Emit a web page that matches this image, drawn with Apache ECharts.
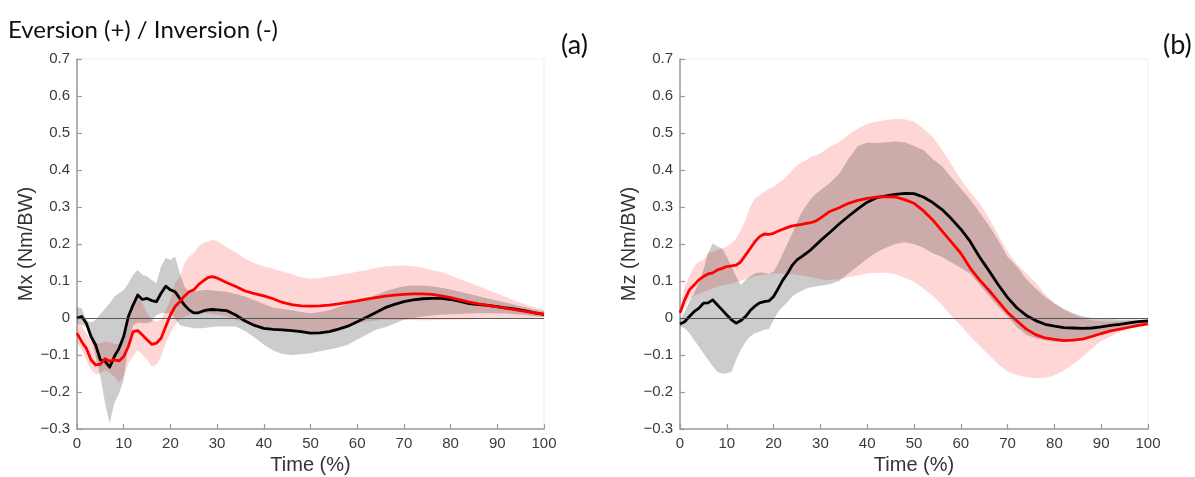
<!DOCTYPE html>
<html>
<head>
<meta charset="utf-8">
<script src="https://cdn.jsdelivr.net/npm/echarts@6/dist/echarts.min.js"></script>
<style>
html,body{margin:0;padding:0;background:#fff;}
#chart{width:1195px;height:477px;}
</style>
</head>
<body>
<div id="chart"></div>
<script>
// ---- Data (Time %, values in Nm/BW) ----
const T = [0,1,2,3,4,5,6,7,8,9,10,11,12,13,14,15,16,17,18,19,20,21,22,23,24,25,26,27,28,29,30,
  32,34,36,38,40,42,44,46,48,50,52,54,56,58,60,62,64,66,68,70,72,74,76,78,80,82,84,86,88,90,92,94,96,98,100];

// Panel (a) Mx
const mxBlackMean = [0,0.004,-0.014,-0.05,-0.073,-0.113,-0.117,-0.133,-0.104,-0.082,-0.05,0.004,0.035,0.062,0.05,0.053,0.047,0.044,0.067,0.086,0.076,0.071,0.053,0.035,0.022,0.014,0.014,0.019,0.022,0.023,0.022,
  0.02,0.008,-0.008,-0.02,-0.028,-0.031,-0.032,-0.034,-0.037,-0.041,-0.04,-0.037,-0.03,-0.022,-0.01,0.002,0.015,0.028,0.037,0.044,0.049,0.052,0.053,0.053,0.05,0.045,0.039,0.036,0.034,0.031,0.027,0.024,0.019,0.014,0.01];
const mxBlackUpper = [0.03,0.026,-0.005,-0.012,-0.005,0.01,0.025,0.04,0.058,0.067,0.076,0.094,0.116,0.13,0.116,0.112,0.103,0.094,0.139,0.162,0.157,0.166,0.121,0.085,0.071,0.071,0.073,0.076,0.076,0.075,0.073,
  0.071,0.065,0.058,0.048,0.038,0.028,0.024,0.021,0.016,0.013,0.016,0.021,0.03,0.038,0.045,0.052,0.062,0.072,0.08,0.086,0.088,0.088,0.086,0.082,0.077,0.071,0.065,0.059,0.053,0.047,0.041,0.035,0.029,0.023,0.018];
const mxBlackLower = [-0.014,-0.018,-0.023,-0.05,-0.104,-0.158,-0.23,-0.285,-0.23,-0.204,-0.167,-0.068,-0.02,-0.012,-0.014,-0.014,-0.01,0.008,0.013,0.013,0.012,0,-0.019,-0.022,-0.025,-0.028,-0.028,-0.028,-0.026,-0.024,-0.023,
  -0.023,-0.023,-0.035,-0.052,-0.072,-0.088,-0.097,-0.1,-0.098,-0.095,-0.09,-0.085,-0.08,-0.072,-0.058,-0.045,-0.032,-0.025,-0.015,-0.005,0,0.004,0.007,0.009,0.01,0.011,0.012,0.013,0.013,0.013,0.012,0.01,0.008,0.005,0.003];
const mxRedMean = [-0.041,-0.064,-0.082,-0.113,-0.127,-0.125,-0.11,-0.117,-0.113,-0.116,-0.104,-0.077,-0.037,-0.034,-0.046,-0.059,-0.071,-0.068,-0.055,-0.023,0.008,0.031,0.044,0.059,0.071,0.076,0.09,0.1,0.109,0.112,0.108,
  0.096,0.085,0.073,0.066,0.06,0.052,0.042,0.036,0.033,0.032,0.033,0.035,0.038,0.042,0.046,0.051,0.055,0.059,0.062,0.064,0.065,0.065,0.064,0.06,0.055,0.049,0.043,0.038,0.034,0.03,0.026,0.022,0.018,0.014,0.01];
const mxRedUpper = [-0.005,-0.02,-0.041,-0.06,-0.068,-0.068,-0.064,-0.066,-0.07,-0.07,-0.059,-0.005,0.035,0.058,0.04,0.013,-0.005,-0.01,-0.005,0.022,0.049,0.094,0.112,0.148,0.166,0.175,0.193,0.202,0.207,0.211,0.208,
  0.192,0.178,0.16,0.148,0.14,0.133,0.126,0.118,0.11,0.107,0.108,0.112,0.116,0.12,0.125,0.13,0.135,0.139,0.141,0.142,0.14,0.136,0.13,0.124,0.115,0.105,0.096,0.086,0.076,0.066,0.056,0.046,0.037,0.029,0.023];
const mxRedLower = [-0.068,-0.086,-0.113,-0.14,-0.153,-0.15,-0.14,-0.148,-0.158,-0.176,-0.158,-0.122,-0.104,-0.086,-0.1,-0.113,-0.131,-0.127,-0.104,-0.068,-0.041,-0.019,-0.005,0.004,0.008,0.012,0.013,0.013,0.012,0.01,0.009,
  0.005,-0.005,-0.012,-0.02,-0.028,-0.033,-0.036,-0.038,-0.04,-0.042,-0.04,-0.037,-0.03,-0.022,-0.015,-0.01,-0.007,-0.005,-0.005,-0.005,-0.006,-0.006,-0.006,-0.005,-0.005,-0.004,-0.004,-0.003,-0.002,-0.002,-0.001,0,0,0.001,0.002];

// Panel (b) Mz
const mzBlackMean = [-0.016,-0.01,0.004,0.017,0.026,0.04,0.041,0.049,0.035,0.022,0.008,-0.005,-0.014,-0.007,0.004,0.02,0.032,0.041,0.044,0.046,0.058,0.08,0.103,0.121,0.143,0.157,0.166,0.175,0.185,0.197,0.209,
  0.231,0.254,0.275,0.295,0.313,0.325,0.33,0.334,0.337,0.336,0.327,0.312,0.293,0.268,0.24,0.207,0.165,0.128,0.09,0.055,0.027,0.007,-0.007,-0.017,-0.022,-0.026,-0.027,-0.028,-0.027,-0.024,-0.02,-0.017,-0.013,-0.01,-0.008];
const mzBlackUpper = [-0.005,0.017,0.044,0.067,0.094,0.13,0.175,0.202,0.193,0.188,0.166,0.139,0.112,0.089,0.103,0.112,0.121,0.123,0.122,0.119,0.125,0.148,0.175,0.202,0.229,0.26,0.285,0.305,0.322,0.335,0.345,
  0.365,0.39,0.43,0.465,0.474,0.473,0.475,0.477,0.475,0.465,0.454,0.43,0.41,0.38,0.35,0.32,0.285,0.25,0.21,0.165,0.139,0.105,0.08,0.057,0.04,0.025,0.013,0.005,0,-0.002,-0.003,-0.004,-0.004,-0.005,-0.005];
const mzBlackLower = [-0.023,-0.028,-0.041,-0.059,-0.077,-0.095,-0.113,-0.131,-0.145,-0.151,-0.149,-0.145,-0.113,-0.086,-0.064,-0.05,-0.041,-0.037,-0.032,-0.03,-0.005,0.017,0.031,0.044,0.058,0.067,0.073,0.08,0.083,0.085,0.087,
  0.091,0.1,0.12,0.14,0.16,0.178,0.19,0.2,0.205,0.2,0.19,0.175,0.165,0.15,0.135,0.12,0.09,0.06,0.03,0.005,-0.025,-0.045,-0.055,-0.06,-0.064,-0.064,-0.061,-0.056,-0.05,-0.043,-0.037,-0.031,-0.025,-0.02,-0.016];
const mzRedMean = [0.014,0.049,0.076,0.089,0.103,0.112,0.119,0.122,0.13,0.134,0.139,0.141,0.143,0.152,0.17,0.188,0.206,0.22,0.227,0.226,0.229,0.235,0.24,0.245,0.249,0.251,0.253,0.256,0.258,0.262,0.27,
  0.288,0.298,0.31,0.318,0.323,0.327,0.328,0.327,0.32,0.31,0.29,0.265,0.235,0.205,0.175,0.135,0.103,0.075,0.045,0.015,-0.008,-0.03,-0.045,-0.054,-0.058,-0.061,-0.06,-0.057,-0.05,-0.042,-0.035,-0.03,-0.025,-0.02,-0.016];
const mzRedUpper = [0.026,0.085,0.112,0.139,0.152,0.157,0.175,0.179,0.184,0.188,0.193,0.202,0.215,0.238,0.265,0.301,0.323,0.332,0.341,0.35,0.355,0.364,0.373,0.386,0.4,0.413,0.42,0.427,0.436,0.44,0.445,
  0.463,0.476,0.495,0.512,0.525,0.531,0.535,0.538,0.537,0.531,0.512,0.49,0.455,0.415,0.375,0.34,0.31,0.27,0.225,0.18,0.145,0.12,0.095,0.065,0.04,0.022,0.01,0,-0.006,-0.009,-0.01,-0.009,-0.008,-0.006,-0.005];
const mzRedLower = [0.004,0.03,0.05,0.06,0.065,0.07,0.075,0.08,0.085,0.088,0.09,0.093,0.097,0.1,0.105,0.108,0.112,0.115,0.117,0.118,0.12,0.12,0.12,0.119,0.118,0.117,0.115,0.113,0.11,0.108,0.105,
  0.103,0.105,0.11,0.115,0.12,0.122,0.122,0.118,0.108,0.098,0.08,0.06,0.035,0.005,-0.02,-0.05,-0.075,-0.1,-0.125,-0.145,-0.155,-0.16,-0.162,-0.162,-0.155,-0.142,-0.125,-0.105,-0.083,-0.062,-0.05,-0.038,-0.028,-0.021,-0.016];

// Axis ticks
const xTicks = {min: 0, max: 100, interval: 10};
const yTicks = {min: -0.3, max: 0.7, interval: 0.1};

// ---- Build chart ----
const pairs = (arr) => T.map((t, i) => [t, arr[i]]);

function band(gridIdx, upper, lower, color, z) {
  return {
    type: 'custom',
    xAxisIndex: gridIdx, yAxisIndex: gridIdx,
    data: [[0, 0]],
    silent: true,
    z: z,
    renderItem: function (params, api) {
      const pts = [];
      for (let i = 0; i < T.length; i++) pts.push(api.coord([T[i], upper[i]]));
      for (let i = T.length - 1; i >= 0; i--) pts.push(api.coord([T[i], lower[i]]));
      return {type: 'polygon', shape: {points: pts}, style: {fill: color, stroke: null}};
    }
  };
}
function line(gridIdx, arr, color, z, withZero) {
  const s = {
    type: 'line', xAxisIndex: gridIdx, yAxisIndex: gridIdx,
    data: pairs(arr), showSymbol: false, symbol: 'none', silent: true, z: z,
    lineStyle: {color: color, width: 2.8, join: 'round'},
    animation: false
  };
  if (withZero) {
    s.markLine = {silent: true, symbol: 'none', animation: false,
      label: {show: false},
      lineStyle: {color: '#4a4a4a', width: 0.9, type: 'solid'},
      data: [{yAxis: 0}]};
  }
  return s;
}
const labelFont = 'Liberation Sans, Arial, sans-serif';
function xAx(gridIdx) {
  return {
    type: 'value', gridIndex: gridIdx, min: xTicks.min, max: xTicks.max, interval: xTicks.interval,
    name: 'Time (%)', nameLocation: 'middle', nameGap: 26,
    nameTextStyle: {fontSize: 20, color: '#333', fontFamily: labelFont},
    axisLine: {show: true, onZero: false, lineStyle: {color: '#9a9a9a', width: 1.5}},
    axisTick: {show: true, inside: true, length: 5, lineStyle: {color: '#9a9a9a', width: 1.2}},
    axisLabel: {color: '#3a3a3a', fontSize: 15, fontFamily: labelFont, margin: 7},
    splitLine: {show: false}
  };
}
function yAx(gridIdx, name) {
  return {
    type: 'value', gridIndex: gridIdx, min: yTicks.min, max: yTicks.max, interval: yTicks.interval,
    name: name, nameLocation: 'middle', nameGap: 41,
    nameTextStyle: {fontSize: 20, color: '#333', fontFamily: labelFont},
    axisLine: {show: true, onZero: false, lineStyle: {color: '#9a9a9a', width: 1.5}},
    axisTick: {show: true, inside: true, length: 5, lineStyle: {color: '#9a9a9a', width: 1.2}},
    axisLabel: {color: '#3a3a3a', fontSize: 15, fontFamily: labelFont, margin: 7,
      formatter: function (v) {
        if (Math.abs(v) < 1e-9) return '0';
        return (v < 0 ? '\u2212' : '') + Math.abs(v).toFixed(1);
      }},
    splitLine: {show: false}
  };
}

const chart = echarts.init(document.getElementById('chart'), null, {renderer: 'canvas'});
chart.setOption({
  animation: false,
  backgroundColor: '#ffffff',
  title: [
    {text: 'Eversion (+) / Inversion (-)', left: 3, top: 13,
      textStyle: {fontSize: 24, fontWeight: 'normal', color: '#111', fontFamily: 'Lato, Open Sans, sans-serif'}},
    {text: '(a)', left: 556, top: 27,
      textStyle: {fontSize: 27, fontWeight: 'normal', color: '#111', fontFamily: 'Lato, Open Sans, sans-serif'}},
    {text: '(b)', left: 1158, top: 27,
      textStyle: {fontSize: 27, fontWeight: 'normal', color: '#111', fontFamily: 'Lato, Open Sans, sans-serif'}}
  ],
  grid: [
    {left: 77, top: 59, width: 467, height: 370, outerBoundsMode: 'none', containLabel: false,
      show: true, borderColor: '#eeeeee', borderWidth: 1, backgroundColor: 'transparent'},
    {left: 680, top: 59, width: 468, height: 370, outerBoundsMode: 'none', containLabel: false,
      show: true, borderColor: '#eeeeee', borderWidth: 1, backgroundColor: 'transparent'}
  ],
  xAxis: [xAx(0), xAx(1)],
  yAxis: [yAx(0, 'Mx (Nm/BW)'), yAx(1, 'Mz (Nm/BW)')],
  series: [
    band(0, mxRedUpper, mxRedLower, 'rgba(255,0,0,0.16)', 1),
    band(0, mxBlackUpper, mxBlackLower, 'rgba(0,0,0,0.2)', 2),
    line(0, mxBlackMean, '#000000', 3, true),
    line(0, mxRedMean, '#ff0000', 4, false),
    band(1, mzRedUpper, mzRedLower, 'rgba(255,0,0,0.16)', 1),
    band(1, mzBlackUpper, mzBlackLower, 'rgba(0,0,0,0.2)', 2),
    line(1, mzBlackMean, '#000000', 3, true),
    line(1, mzRedMean, '#ff0000', 4, false)
  ]
});
</script>
</body>
</html>
